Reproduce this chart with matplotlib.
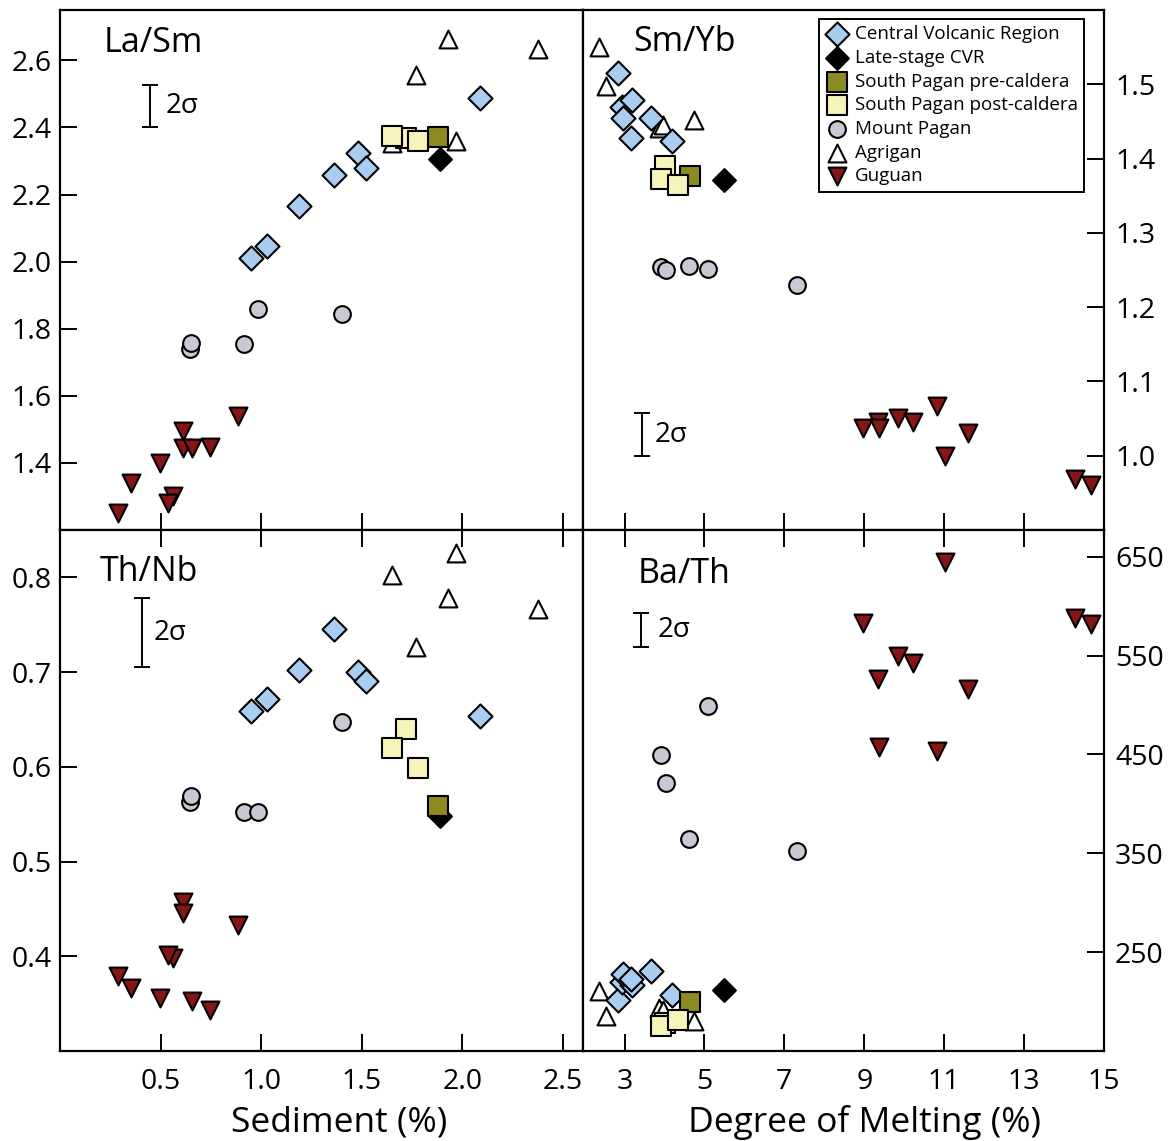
import matplotlib.pyplot as plt

plt.rcParams['font.family'] = ['Open Sans', 'DejaVu Sans']

# ---- data ----
# Central Volcanic Region
cvr_sed = [2.09, 1.48, 1.52, 1.36, 1.19, 1.03, 0.95]
cvr_la_sm = [2.487, 2.324, 2.279, 2.257, 2.165, 2.048, 2.012]
cvr_th_nb = [0.654, 0.700, 0.691, 0.745, 0.702, 0.672, 0.659]
cvr_melt = [2.83, 2.94, 3.19, 2.97, 3.66, 3.16, 4.20]
cvr_sm_yb = [1.515, 1.469, 1.479, 1.455, 1.455, 1.428, 1.423]
cvr_ba_th = [202, 220, 217, 228, 231, 223, 207]

# Late-stage CVR
late_sed = [1.89]
late_la_sm = [2.306]
late_th_nb = [0.548]
late_melt = [5.50]
late_sm_yb = [1.371]
late_ba_th = [212]

# South Pagan pre-caldera
pre_sed = [1.88]
pre_la_sm = [2.371]
pre_th_nb = [0.559]
pre_melt = [4.64]
pre_sm_yb = [1.377]
pre_ba_th = [200]

# South Pagan post-caldera
post_sed = [1.72, 1.65, 1.78]
post_la_sm = [2.369, 2.373, 2.361]
post_th_nb = [0.640, 0.620, 0.599]
post_melt = [4.00, 3.92, 4.33]
post_sm_yb = [1.390, 1.373, 1.365]
post_ba_th = [178, 175, 181]

# Mount Pagan
mp_sed = [0.645, 0.65, 0.915, 0.985, 1.40]
mp_la_sm = [1.741, 1.758, 1.753, 1.858, 1.844]
mp_th_nb = [0.563, 0.569, 0.552, 0.552, 0.647]
mp_melt = [3.92, 4.04, 4.62, 5.09, 7.31]
mp_sm_yb = [1.2535, 1.2503, 1.2556, 1.2512, 1.2302]
mp_ba_th = [449, 421, 364, 499, 352]

# Agrigan
ag_sed = [1.65, 1.77, 1.93, 1.97, 2.375]
ag_la_sm = [2.353, 2.557, 2.663, 2.361, 2.634]
ag_th_nb = [0.803, 0.727, 0.778, 0.826, 0.7665]
ag_melt = [2.35, 2.525, 3.85, 4.73, 3.97]
ag_sm_yb = [1.5505, 1.498, 1.441, 1.452, 1.445]
ag_ba_th = [211, 185, 194, 180, 191]

# Guguan
gu_sed = [0.885, 0.612, 0.609, 0.658, 0.748, 0.495, 0.355, 0.562, 0.538, 0.288]
gu_la_sm = [1.540, 1.4965, 1.444, 1.444, 1.447, 1.401, 1.340, 1.300, 1.279, 1.251]
gu_th_nb = [0.4334, 0.457, 0.4454, 0.3528, 0.3430, 0.3563, 0.367, 0.3981, 0.4016, 0.3793]
gu_melt = [8.965, 9.34, 9.365, 9.84, 10.215, 10.815, 11.59, 11.03, 14.265, 14.68]
gu_sm_yb = [1.0367, 1.0457, 1.0377, 1.0511, 1.0457, 1.0672, 1.030, 1.0001, 0.9688, 0.960]
gu_ba_th = [583, 526, 458, 550, 542, 453, 516, 645, 588, 582]

# 2 sigma bars: (x, low, high)
sig_la_sm = (0.448, 2.40, 2.525)
sig_sm_yb = (3.445, 1.0, 1.057)
sig_th_nb = (0.408, 0.705, 0.778)
sig_ba_th = (3.42, 559, 593)

# ---- groups in drawing order ----
groups = [
    ('Mount Pagan', mp_sed, mp_la_sm, mp_th_nb, mp_melt, mp_sm_yb, mp_ba_th,
     dict(marker='o', s=145, facecolor='#c9c9d3', edgecolor='black')),
    ('Guguan', gu_sed, gu_la_sm, gu_th_nb, gu_melt, gu_sm_yb, gu_ba_th,
     dict(marker='v', s=165, facecolor='#861515', edgecolor='black')),
    ('Agrigan', ag_sed, ag_la_sm, ag_th_nb, ag_melt, ag_sm_yb, ag_ba_th,
     dict(marker='^', s=165, facecolor='white', edgecolor='black')),
    ('Central Volcanic Region', cvr_sed, cvr_la_sm, cvr_th_nb, cvr_melt, cvr_sm_yb, cvr_ba_th,
     dict(marker='D', s=150, facecolor='#a9cdf1', edgecolor='black')),
    ('Late-stage CVR', late_sed, late_la_sm, late_th_nb, late_melt, late_sm_yb, late_ba_th,
     dict(marker='D', s=135, facecolor='black', edgecolor='black')),
    ('South Pagan pre-caldera', pre_sed, pre_la_sm, pre_th_nb, pre_melt, pre_sm_yb, pre_ba_th,
     dict(marker='s', s=190, facecolor='#8c8a20', edgecolor='black')),
    ('South Pagan post-caldera', post_sed, post_la_sm, post_th_nb, post_melt, post_sm_yb, post_ba_th,
     dict(marker='s', s=190, facecolor='#f6f3bb', edgecolor='black')),
]
legend_order = ['Central Volcanic Region', 'Late-stage CVR', 'South Pagan pre-caldera',
                'South Pagan post-caldera', 'Mount Pagan', 'Agrigan', 'Guguan']

fig = plt.figure(figsize=(11.74, 11.41), dpi=100)
L, M, R = 60 / 1174, 583 / 1174, 1104 / 1174
T, H, B = 1 - 10 / 1141, 1 - 530 / 1141, 1 - 1051 / 1141
ax_tl = fig.add_axes([L, H, M - L, T - H])
ax_tr = fig.add_axes([M, H, R - M, T - H])
ax_bl = fig.add_axes([L, B, M - L, H - B])
ax_br = fig.add_axes([M, B, R - M, H - B])

handles = {}
for label, sed, la_sm, th_nb, melt, sm_yb, ba_th, st in groups:
    kw = dict(linewidths=1.5, zorder=3, **st)
    h = ax_tl.scatter(sed, la_sm, label=label, **kw)
    ax_bl.scatter(sed, th_nb, **kw)
    ax_tr.scatter(melt, sm_yb, **kw)
    ax_br.scatter(melt, ba_th, **kw)
    handles[label] = h

# limits and ticks
ax_tl.set_xlim(0, 2.6)
ax_bl.set_xlim(0, 2.6)
ax_tl.set_ylim(1.2, 2.75)
ax_bl.set_ylim(0.3, 0.85)
ax_tr.set_xlim(1.96, 15)
ax_br.set_xlim(1.96, 15)
ax_tr.set_ylim(0.9, 1.6)
ax_br.set_ylim(150, 677)

for ax in (ax_tl, ax_bl):
    ax.set_xticks([0.5, 1.0, 1.5, 2.0, 2.5])
    ax.set_xticklabels(['0.5', '1.0', '1.5', '2.0', '2.5'])
for ax in (ax_tr, ax_br):
    ax.set_xticks([3, 5, 7, 9, 11, 13, 15])
ax_tl.set_yticks([1.4, 1.6, 1.8, 2.0, 2.2, 2.4, 2.6])
ax_tl.set_yticklabels(['1.4', '1.6', '1.8', '2.0', '2.2', '2.4', '2.6'])
ax_bl.set_yticks([0.4, 0.5, 0.6, 0.7, 0.8])
ax_tr.set_yticks([1.0, 1.1, 1.2, 1.3, 1.4, 1.5])
ax_tr.set_yticklabels(['1.0', '1.1', '1.2', '1.3', '1.4', '1.5'])
ax_br.set_yticks([250, 350, 450, 550, 650])

for ax in (ax_tl, ax_tr, ax_bl, ax_br):
    ax.tick_params(direction='in', length=12, width=1.4, labelsize=20.5, colors='black')
    for sp in ax.spines.values():
        sp.set_linewidth(1.6)

ax_tl.tick_params(axis='x', bottom=True, top=False, labelbottom=False)
ax_tl.tick_params(axis='y', left=True, right=False, pad=6)
ax_tr.tick_params(axis='x', bottom=True, top=False, labelbottom=False)
ax_tr.tick_params(axis='y', left=False, right=True, labelleft=False, labelright=True, pad=8)
ax_bl.tick_params(axis='x', bottom=True, top=True, labelbottom=True, pad=12)
ax_bl.tick_params(axis='y', left=True, right=False, pad=6)
ax_br.tick_params(axis='x', bottom=True, top=True, labelbottom=True, pad=12)
ax_br.tick_params(axis='y', left=False, right=True, labelleft=False, labelright=True, pad=8)

ax_bl.set_xlabel('Sediment (%)', fontsize=25.5)
ax_bl.xaxis.set_label_coords(0.533, -0.104)
ax_br.set_xlabel('Degree of Melting (%)', fontsize=25.5)
ax_br.xaxis.set_label_coords(0.541, -0.104)

# panel titles
ax_tl.text(0.083, 0.92, 'La/Sm', transform=ax_tl.transAxes, fontsize=24.5, va='baseline')
ax_tr.text(0.096, 0.922, 'Sm/Yb', transform=ax_tr.transAxes, fontsize=24.5, va='baseline')
ax_bl.text(0.076, 0.902, 'Th/Nb', transform=ax_bl.transAxes, fontsize=24.5, va='baseline')
ax_br.text(0.104, 0.899, 'Ba/Th', transform=ax_br.transAxes, fontsize=24.5, va='baseline')

# 2 sigma bars
for ax, (x, lo, hi), dx in ((ax_tl, sig_la_sm, 0.075), (ax_tr, sig_sm_yb, 0.32),
                            (ax_bl, sig_th_nb, 0.058), (ax_br, sig_ba_th, 0.40)):
    ax.errorbar([x], [(lo + hi) / 2], yerr=[(hi - lo) / 2], fmt='none', ecolor='black',
                elinewidth=1.4, capsize=6, capthick=1.4)
    ax.text(x + dx, (lo + hi) / 2, '2σ', fontsize=20, ha='left', va='center')

leg = ax_tr.legend([handles[k] for k in legend_order], legend_order, loc='upper left',
                   bbox_to_anchor=(0.4535, 0.983), borderaxespad=0, fontsize=13.5,
                   scatterpoints=1, frameon=True, fancybox=False, edgecolor='black',
                   framealpha=1, borderpad=0.35, labelspacing=0.3, handlelength=1.2,
                   handletextpad=0.35)
leg.get_frame().set_linewidth(1.4)

plt.savefig('out.png', dpi=100)
